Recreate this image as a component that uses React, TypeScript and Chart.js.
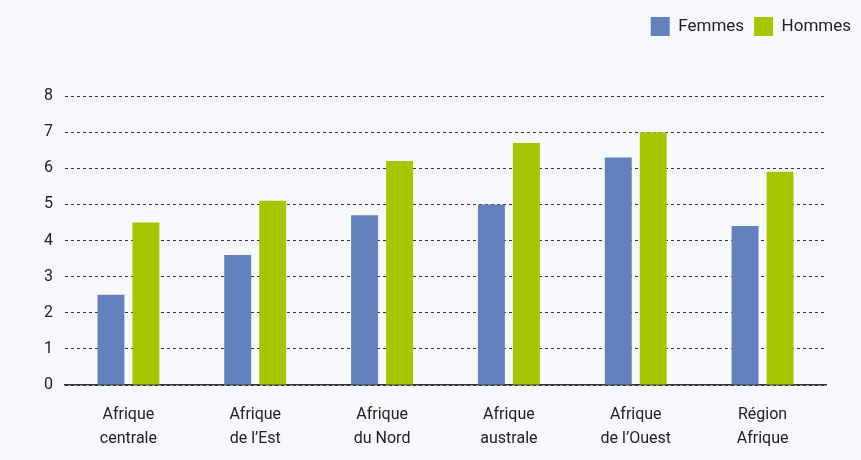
import React, { useEffect, useRef } from "react";
import { Chart, registerables } from "chart.js";

Chart.register(...registerables);

const categories: string[][] = [
  ["Afrique", "centrale"],
  ["Afrique", "de l\u2019Est"],
  ["Afrique", "du Nord"],
  ["Afrique", "australe"],
  ["Afrique", "de l\u2019Ouest"],
  ["Région", "Afrique"],
];
const femmes = [2.5, 3.6, 4.7, 5.0, 6.3, 4.4];
const hommes = [4.5, 5.1, 6.2, 6.7, 7.0, 5.9];
const seriesNames = ["Femmes", "Hommes"];

const FONT = "'Liberation Sans Narrow', 'Roboto', 'DejaVu Sans', sans-serif";

export default function App() {
  const ref = useRef<HTMLCanvasElement | null>(null);

  useEffect(() => {
    document.body.style.margin = "0";
    const legendSpace = {
      id: "legendSpace",
      afterInit(chart: any) {
        const leg = chart.legend;
        if (!leg) return;
        const fit = leg.fit;
        leg.fit = function () {
          fit.bind(leg)();
          this.height += 50;
        };
      },
    };
    const chart = new Chart(ref.current as HTMLCanvasElement, {
      type: "bar",
      data: {
        labels: categories,
        datasets: [
          {
            label: seriesNames[0],
            data: femmes,
            backgroundColor: "#6381bd",
            categoryPercentage: 0.552,
            barPercentage: 0.77,
          },
          {
            label: seriesNames[1],
            data: hommes,
            backgroundColor: "#a8c600",
            categoryPercentage: 0.552,
            barPercentage: 0.77,
          },
        ],
      },
      options: {
        animation: false,
        responsive: false,
        maintainAspectRatio: false,
        layout: { padding: { top: 7, right: 0, left: 32, bottom: 0 } },
        plugins: {
          tooltip: { enabled: false },
          legend: {
            position: "top",
            align: "end",
            labels: {
              boxWidth: 19,
              boxHeight: 19,
              padding: 10,
              color: "#222",
              font: { family: FONT, size: 17 },
            },
          },
        },
        scales: {
          x: {
            grid: { display: false, drawTicks: false },
            border: { display: true, color: "#333", width: 1.5 },
            ticks: {
              color: "#222",
              padding: 18,
              maxRotation: 0,
              font: { family: FONT, size: 16, lineHeight: 1.5 },
            },
            afterFit(scale: any) {
              scale.height = 75;
            },
          },
          y: {
            min: 0,
            max: 8,
            grid: { color: "#333", lineWidth: 1, drawTicks: false },
            border: { display: false, dash: [3, 3] },
            ticks: {
              stepSize: 1,
              color: "#222",
              padding: 12,
              font: { family: FONT, size: 16 },
            },
          },
          y2: {
            position: "right",
            display: true,
            grid: { display: false, drawTicks: false },
            border: { display: false },
            ticks: { display: false },
            afterFit(scale: any) {
              scale.width = 35;
            },
          },
        },
      },
      plugins: [legendSpace],
    } as any);
    return () => chart.destroy();
  }, []);

  return (
    <div style={{ width: 861, height: 460, background: "#f7f8fc" }}>
      <canvas ref={ref} width={861} height={460} />
    </div>
  );
}
